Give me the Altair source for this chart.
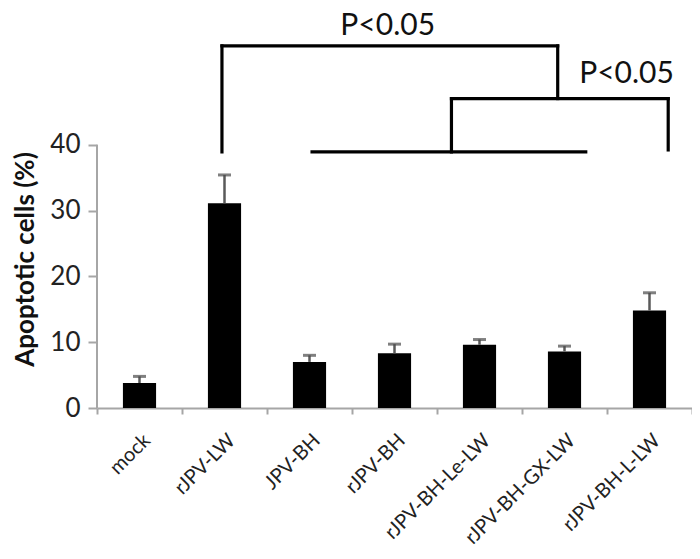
import altair as alt
import pandas as pd

categories = ["mock", "rJPV-LW", "JPV-BH", "rJPV-BH", "rJPV-BH-Le-LW", "rJPV-BH-GX-LW", "rJPV-BH-L-LW"]
values = [3.8, 31.1, 7.0, 8.3, 9.6, 8.6, 14.8]
upper = [4.8, 35.4, 8.0, 9.7, 10.4, 9.4, 17.5]
y_ticks = [0, 10, 20, 30, 40]

# significance brackets (x in category-index units, y in % units)
seg_x = [0.97, 0.97, 4.92, 3.67, 3.67, 6.22, 2.03]
seg_x2 = [4.92, 0.97, 4.92, 6.22, 3.67, 6.22, 5.25]
seg_y = [55.0, 55.0, 55.0, 47.0, 47.0, 47.0, 38.9]
seg_y2 = [55.0, 38.9, 47.0, 47.0, 38.9, 39.2, 38.9]

p_text = ["P<0.05", "P<0.05"]
p_x = [2.92, 5.73]
p_y = [56.7, 49.4]

FONT = "Lato"
AX = "#a6a6a6"

df = pd.DataFrame({"cat": categories, "value": values, "upper": upper})
seg = pd.DataFrame({"x": seg_x, "x2": seg_x2, "y": seg_y, "y2": seg_y2})
txt = pd.DataFrame({"t": p_text, "x": p_x, "y": p_y})
axdf = pd.DataFrame({"lo": [y_ticks[0]], "hi": [y_ticks[-1]]})

yscale = alt.Scale(domain=[0, 60], nice=False, zero=True)
xband = alt.X("cat:N", sort=categories, title=None,
              scale=alt.Scale(paddingInner=0, paddingOuter=0),
              axis=alt.Axis(labelAngle=-45, labelFont=FONT, labelFontSize=20,
                            labelColor="#222222", tickBand="extent", tickSize=6,
                            tickColor=AX, domainColor=AX, domainWidth=2, tickWidth=2,
                            labelPadding=16))

bars = alt.Chart(df).mark_bar(color="black", width=alt.RelativeBandSize(0.39)).encode(
    x=xband,
    y=alt.Y("value:Q", scale=yscale,
            axis=alt.Axis(values=y_ticks, domain=False, grid=False,
                          tickSize=9, tickWidth=2, tickColor=AX,
                          labelFont=FONT, labelFontSize=26, labelColor="#222222",
                          labelPadding=8,
                          title="Apoptotic cells (%)", titleFont=FONT, titleFontSize=26,
                          titleFontWeight="bold", titleColor="#111111",
                          titleAngle=-90, titleX=-72, titleY=246,
                          titleAlign="center", titleBaseline="middle")),
)

err = alt.Chart(df).mark_rule(color="#5a5a5a", strokeWidth=2.5).encode(
    x=alt.X("cat:N", sort=categories),
    y="value:Q",
    y2="upper:Q",
)
caps = alt.Chart(df).mark_tick(color="#4a4a4a", size=13, thickness=3).encode(
    x=alt.X("cat:N", sort=categories),
    y="upper:Q",
)
yline = alt.Chart(axdf).mark_rule(color=AX, strokeWidth=2).encode(
    x=alt.value(0),
    y="lo:Q",
    y2="hi:Q",
)

base = alt.layer(bars, err, caps, yline)

xq = alt.Scale(domain=[-0.5, 6.5], nice=False, zero=False)
brackets = alt.Chart(seg).mark_rule(color="black", strokeWidth=3.2, strokeCap="square").encode(
    x=alt.X("x:Q", scale=xq, axis=None),
    x2="x2:Q",
    y="y:Q",
    y2="y2:Q",
)
ptext = alt.Chart(txt).mark_text(font=FONT, fontSize=30, color="#111111",
                                 baseline="alphabetic", align="center").encode(
    x=alt.X("x:Q", scale=xq, axis=None),
    y="y:Q",
    text="t:N",
)
annot = alt.layer(brackets, ptext)

chart = alt.layer(base, annot).resolve_scale(x="independent").properties(
    width=595, height=395,
    autosize=alt.AutoSizeParams(type="none"),
    padding={"left": 89, "top": 5, "right": 0, "bottom": 140},
).configure_view(stroke=None)

chart.save("out.html", embed_options={"renderer": "svg", "actions": False})
